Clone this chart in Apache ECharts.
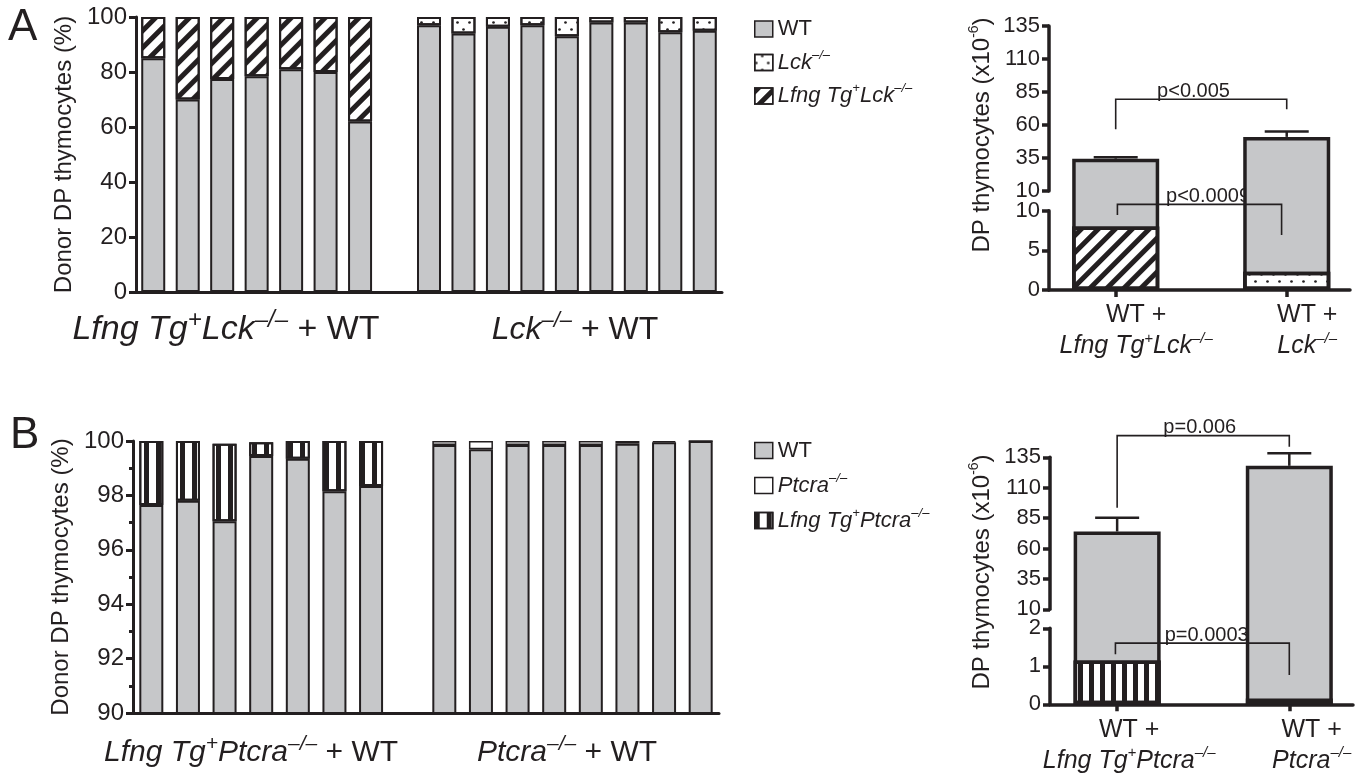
<!DOCTYPE html>
<html>
<head>
<meta charset="utf-8">
<title>Donor DP thymocytes</title>
<script src="https://cdn.jsdelivr.net/npm/echarts@6.0.0/dist/echarts.min.js"></script>
<style>
  html, body { margin: 0; padding: 0; background: #fff; }
  #chart { width: 1366px; height: 781px; }
</style>
</head>
<body>
<div id="chart"></div>
<script>
var ink = '#231f20';
var grey = '#c6c7c9';
var font = '"Liberation Sans", Arial, Helvetica, sans-serif';

// ---- Panel A, left: % of donor DP thymocytes per recipient ----
var aLfngWT  = [85, 70, 77.5, 78.5, 81, 80, 62];          // WT share, Lfng Tg+Lck-/- + WT
var aLfngMut = [15, 30, 22.5, 21.5, 19, 20, 38];          // Lfng Tg+Lck-/- share
var aLckWT   = [97, 94, 96.5, 97, 93, 98, 98, 94.5, 95];  // WT share, Lck-/- + WT
var aLckMut  = [3, 6, 3.5, 3, 7, 2, 2, 5.5, 5];           // Lck-/- share

// ---- Panel B, left ----
var bLfngWT  = [97.65, 97.8, 97.05, 99.45, 99.35, 98.15, 98.35];
var bLfngMut = [2.35, 2.2, 2.85, 0.5, 0.65, 1.85, 1.65];
var bPtWT    = [99.85, 99.7, 99.85, 99.85, 99.85, 99.9, 99.95, 100];
var bPtMut   = [0.15, 0.3, 0.15, 0.15, 0.15, 0.1, 0.05, 0];

// ---- right panels: DP thymocytes (x10^6), mean + SEM ----
var aTotal = [34.5, 51];
var aTotalErr = [1, 4];
var aMut = [8, 2.3];        // Lfng Tg+Lck-/-, Lck-/-
var bTotal = [74, 128];
var bTotalErr = [11.3, 10.3];
var bMut = [1.15, 0.15];    // Lfng Tg+Ptcra-/-, Ptcra-/-

var upperTicks = [10, 35, 60, 85, 110, 135];

var aBrackets = [
  { from: 1, to: 2, legs: [56.7, 71.9], bar: 79.5, text: 'p<0.005', at: 1.455 },
  { from: 1.01, to: 1.97, legs: [9.46, 6.94], bar: 10.8, low: true, text: 'p<0.0009', at: 1.54 }
];
var bBrackets = [
  { from: 1, to: 2, legs: [93.6, 143.7], bar: 152.8, text: 'p=0.006', at: 1.48 },
  { from: 0.99, to: 2, legs: [1.32, 0.77], bar: 1.61, text: 'p=0.0003', at: 1.52 }
];

// broken axis geometry of the right panels
var geoA = { left: 1049, width: 301, top: 20, lowTop: 210.7, lowBottom: 290, lowMax: 10,
             upTop: 26, upBottom: 191, upMin: 10, upMax: 135 };
var geoB = { left: 1050, width: 303, top: 420, lowTop: 628.3, lowBottom: 704.3, lowMax: 2,
             upTop: 457.3, upBottom: 609.3, upMin: 10, upMax: 135 };

function scaleFor(g) {
  var lowK = (g.lowBottom - g.lowTop) / g.lowMax;
  var upK = (g.upBottom - g.upTop) / (g.upMax - g.upMin);
  var f = function (v, lowOnly) {
    if (v <= g.lowMax || lowOnly) return v;
    return g.lowMax + (g.lowTop - g.upBottom + (v - g.upMin) * upK) / lowK;
  };
  f.max = (g.lowBottom - g.top) / lowK;
  return f;
}
var tA = scaleFor(geoA);
var tB = scaleFor(geoB);

function dashes(n) { var r = []; for (var i = 0; i < n; i++) r.push('-'); return r; }

var catA = aLfngWT.map(function (v, i) { return 'L' + i; }).concat(['gapA'], aLckWT.map(function (v, i) { return 'K' + i; }));
var catB = bLfngWT.map(function (v, i) { return 'L' + i; }).concat(['gapB'], bPtWT.map(function (v, i) { return 'P' + i; }));

function rich(fs, supRatio) {
  var lh = Math.round(fs * 1.25);
  var ss = Math.round(fs * (supRatio || 0.6));
  return {
    r: { fontSize: fs, fontFamily: font, color: ink, fill: ink, lineHeight: lh },
    i: { fontSize: fs, fontFamily: font, fontStyle: 'italic', color: ink, fill: ink, lineHeight: lh },
    s: { fontSize: ss, fontFamily: font, fontStyle: 'italic', color: ink, fill: ink,
         lineHeight: Math.round(ss * 1.3), verticalAlign: 'top' },
    n: { fontSize: ss, fontFamily: font, color: ink, fill: ink,
         lineHeight: Math.round(ss * 1.3), verticalAlign: 'top' }
  };
}
var legendText = {
  'WT': '{r|WT}',
  'Lck-/-': '{i|Lck}{s|–/–}',
  'Lfng Tg+Lck-/-': '{i|Lfng Tg}{s|+}{i|Lck}{s|–/–}',
  'Ptcra-/-': '{i|Ptcra}{s|–/–}',
  'Lfng Tg+Ptcra-/-': '{i|Lfng Tg}{s|+}{i|Ptcra}{s|–/–}'
};

var decalDiag = { symbol: 'rect', symbolSize: 1, symbolKeepAspect: false, dashArrayX: [1, 0], dashArrayY: [5, 7],
                  rotation: -Math.PI / 4, color: ink };
var decalDots = { symbol: 'circle', symbolSize: 0.9, symbolKeepAspect: false, dashArrayX: [[3, 9], [0, 6, 3, 3]],
                  dashArrayY: [3, 4], color: ink };
var decalVertL = { symbol: 'rect', symbolSize: 1, symbolKeepAspect: false, dashArrayX: [5, 7], dashArrayY: [1, 0], color: ink };
var decalVertR = { symbol: 'rect', symbolSize: 1, symbolKeepAspect: false, dashArrayX: [5, 5.5], dashArrayY: [1, 0], color: ink };

function grid(l, t, w, h) {
  return { left: l, top: t, width: w, height: h, containLabel: false, outerBoundsMode: 'none' };
}

function leftY(gi, min, max, step, minor) {
  return {
    gridIndex: gi, type: 'value', min: min, max: max, interval: step,
    name: 'Donor DP thymocytes (%)', nameLocation: 'middle', nameGap: 60, nameMoveOverlap: false,
    nameTextStyle: { fontSize: 24, color: ink, fontFamily: font },
    axisLine: { show: true, lineStyle: { color: ink, width: 3 } },
    axisTick: { show: true, length: 7, lineStyle: { color: ink, width: 3 } },
    minorTick: { show: minor, splitNumber: 2, length: 4, lineStyle: { color: ink, width: 3 } },
    axisLabel: { fontSize: 24, color: ink, fontFamily: font, margin: 9 },
    splitLine: { show: false }
  };
}
function leftX(gi, cats, centred) {
  return {
    gridIndex: gi, type: 'category', data: cats,
    axisLine: { lineStyle: { color: ink, width: 3 } },
    axisTick: { alignWithLabel: centred, interval: 0, length: 4, lineStyle: { color: ink, width: 3 } },
    axisLabel: { show: false, interval: 0 },
    splitLine: { show: false }
  };
}
function hiddenX(gi) { return { gridIndex: gi, type: 'value', min: 0.61, max: 2.37, show: false }; }
function lowerX(gi, labelAt, labels) {
  return {
    gridIndex: gi, type: 'value', min: 0.61, max: 2.37,
    axisLine: { lineStyle: { color: ink, width: 3.5 } },
    axisTick: { show: true, customValues: [1, 2], length: 7, lineStyle: { color: ink, width: 3.5 } },
    axisLabel: { customValues: labelAt, margin: 10, color: ink, fontFamily: font, fontSize: 25, lineHeight: 31,
                 formatter: function (v) { return labels[v < 1.5 ? 0 : 1]; }, rich: rich(25) },
    splitLine: { show: false }
  };
}
function rightY(gi, min, max, step, custom) {
  var ax = {
    gridIndex: gi, type: 'value', min: min, max: max,
    axisLine: { show: true, lineStyle: { color: ink, width: 3.5 } },
    axisTick: { show: true, length: 7, lineStyle: { color: ink, width: 3.5 } },
    axisLabel: { fontSize: 22, color: ink, fontFamily: font, margin: 9 },
    splitLine: { show: false }
  };
  if (custom) { ax.axisTick.customValues = custom; ax.axisLabel.customValues = custom; }
  else { ax.interval = step; }
  return ax;
}

function errItem(params, api) {
  var top = api.coord([api.value(0), api.value(1)]);
  var cap = api.coord([api.value(0), api.value(2)]);
  return { type: 'group', children: [
    { type: 'line', shape: { x1: top[0], y1: top[1], x2: cap[0], y2: cap[1] }, style: { stroke: ink, lineWidth: 2.5 } },
    { type: 'line', shape: { x1: cap[0] - 22, y1: cap[1], x2: cap[0] + 22, y2: cap[1] }, style: { stroke: ink, lineWidth: 2.5 } }
  ] };
}
function bracketItem(params, api) {
  var l = api.coord([api.value(0), api.value(2)]);
  var a = api.coord([api.value(0), api.value(4)]);
  var b = api.coord([api.value(1), api.value(4)]);
  var r = api.coord([api.value(1), api.value(3)]);
  return { type: 'polyline', shape: { points: [l, a, b, r] }, style: { stroke: ink, lineWidth: 1.6, fill: null } };
}
function labelItemFor(list) {
  return function (params, api) {
    var p = api.coord([api.value(0), api.value(1)]);
    return { type: 'text', x: p[0], y: p[1] + 2,
      style: { text: list[params.dataIndex].text, fontSize: 20, fontFamily: font, fill: ink,
               align: 'center', verticalAlign: 'bottom' } };
  };
}

function rightSeries(gi, t, total, err, mut, names, decals, brackets) {
  var mk = { type: 'bar', xAxisIndex: gi, yAxisIndex: gi, barWidth: 87, barGap: '-100%', clip: false };
  return [
    Object.assign({ name: 'WT', data: total.map(function (v, i) { return [i + 1, t(v)]; }),
      itemStyle: { color: grey, borderColor: ink, borderWidth: 3.5 } }, mk),
    Object.assign({ name: names[0], data: [[1, t(mut[0])]],
      itemStyle: { color: '#fff', borderColor: ink, borderWidth: 3.5, decal: decals[0] } }, mk),
    Object.assign({ name: names[1], data: [[2, t(mut[1])]],
      itemStyle: { color: '#fff', borderColor: ink, borderWidth: 3.5, decal: decals[1] } }, mk),
    { type: 'custom', xAxisIndex: gi, yAxisIndex: gi, z: 3, renderItem: errItem,
      data: total.map(function (v, i) { return [i + 1, t(v), t(v + err[i])]; }) },
    { type: 'custom', xAxisIndex: gi, yAxisIndex: gi, z: 3, renderItem: bracketItem,
      data: brackets.map(function (b) { return [b.from, b.to, t(b.legs[0], b.low), t(b.legs[1], b.low), t(b.bar, b.low)]; }) },
    { type: 'custom', xAxisIndex: gi, yAxisIndex: gi, z: 1, renderItem: labelItemFor(brackets),
      data: brackets.map(function (b) { return [b.at, t(b.bar, b.low)]; }) }
  ];
}

var barL = { type: 'bar', barWidth: 24, clip: true };
var option = {
  animation: false,
  backgroundColor: '#fff',
  textStyle: { fontFamily: font, color: ink },
  grid: [
    grid(136, 17, 586, 275),
    grid(133, 441, 586, 272),
    grid(geoA.left, geoA.upTop, geoA.width, geoA.upBottom - geoA.upTop),
    grid(geoA.left, geoA.lowTop, geoA.width, geoA.lowBottom - geoA.lowTop),
    grid(geoA.left, geoA.top, geoA.width, geoA.lowBottom - geoA.top),
    grid(geoB.left, geoB.upTop, geoB.width, geoB.upBottom - geoB.upTop),
    grid(geoB.left, geoB.lowTop, geoB.width, geoB.lowBottom - geoB.lowTop),
    grid(geoB.left, geoB.top, geoB.width, geoB.lowBottom - geoB.top)
  ],
  xAxis: [
    leftX(0, catA, true),
    leftX(1, catB, false),
    hiddenX(2),
    lowerX(3, [1.12, 2.12], ['{r|WT +}\n{i|Lfng Tg}{s|+}{i|Lck}{s|–/–}', '{r|WT +}\n{i|Lck}{s|–/–}']),
    hiddenX(4),
    hiddenX(5),
    lowerX(6, [1.07, 2.13], ['{r|WT +}\n{i|Lfng Tg}{s|+}{i|Ptcra}{s|–/–}', '{r|WT +}\n{i|Ptcra}{s|–/–}']),
    hiddenX(7)
  ],
  yAxis: [
    leftY(0, 0, 100, 20, false),
    leftY(1, 90, 100, 2, true),
    rightY(2, 10, 135, null, upperTicks),
    rightY(3, 0, 10, 5),
    { gridIndex: 4, type: 'value', min: 0, max: tA.max, show: false },
    rightY(5, 10, 135, null, upperTicks),
    rightY(6, 0, 2, 1),
    { gridIndex: 7, type: 'value', min: 0, max: tB.max, show: false }
  ],
  legend: [
    { left: 749, top: 13, orient: 'vertical', itemWidth: 18, itemHeight: 16, itemGap: 8.5, selectedMode: false,
      data: [{ name: 'WT', icon: 'rect' }, { name: 'Lck-/-', icon: 'rect' }, { name: 'Lfng Tg+Lck-/-', icon: 'rect' }],
      formatter: function (n) { return legendText[n]; },
      itemStyle: { borderColor: ink, borderWidth: 1.5 },
      textStyle: { fontSize: 22, color: ink, fontFamily: font, rich: rich(22) } },
    { left: 749, top: 434.5, orient: 'vertical', itemWidth: 18, itemHeight: 16, itemGap: 10, selectedMode: false,
      data: [{ name: 'WT', icon: 'rect' }, { name: 'Ptcra-/-', icon: 'rect' }, { name: 'Lfng Tg+Ptcra-/-', icon: 'rect' }],
      formatter: function (n) { return legendText[n]; },
      itemStyle: { borderColor: ink, borderWidth: 1.5 },
      textStyle: { fontSize: 22, color: ink, fontFamily: font, rich: rich(22) } }
  ],
  graphic: [
    { type: 'text', left: 8, top: 6, style: { text: 'A', fontSize: 44, fontFamily: font, fill: ink } },
    { type: 'text', left: 10, top: 414, style: { text: 'B', fontSize: 44, fontFamily: font, fill: ink } },
    { type: 'text', x: 226, y: 330, style: { text: '{i|Lfng Tg}{s|+}{i|Lck}{s|–/–}{r| + WT}', rich: rich(34, 0.7),
      align: 'center', verticalAlign: 'middle' } },
    { type: 'text', x: 575, y: 330, style: { text: '{i|Lck}{s|–/–}{r| + WT}', rich: rich(32, 0.7),
      align: 'center', verticalAlign: 'middle' } },
    { type: 'text', x: 251, y: 753, style: { text: '{i|Lfng Tg}{s|+}{i|Ptcra}{s|–/–}{r| + WT}', rich: rich(30, 0.7),
      align: 'center', verticalAlign: 'middle' } },
    { type: 'text', x: 567, y: 753, style: { text: '{i|Ptcra}{s|–/–}{r| + WT}', rich: rich(30, 0.7),
      align: 'center', verticalAlign: 'middle' } },
    { type: 'text', x: 982, y: 135, rotation: Math.PI / 2, style: { text: '{r|DP thymocytes (x10}{n|-6}{r|)}',
      rich: rich(24), align: 'center', verticalAlign: 'middle' } },
    { type: 'text', x: 982, y: 572, rotation: Math.PI / 2, style: { text: '{r|DP thymocytes (x10}{n|-6}{r|)}',
      rich: rich(24), align: 'center', verticalAlign: 'middle' } }
  ],
  series: [
    Object.assign({ name: 'WT', stack: 'a', xAxisIndex: 0, yAxisIndex: 0,
      data: aLfngWT.concat(['-'], aLckWT), itemStyle: { color: grey, borderColor: ink, borderWidth: 2 } }, barL),
    Object.assign({ name: 'Lck-/-', stack: 'a', xAxisIndex: 0, yAxisIndex: 0,
      data: dashes(aLfngWT.length + 1).concat(aLckMut),
      itemStyle: { color: '#fff', borderColor: ink, borderWidth: 2, decal: decalDots } }, barL),
    Object.assign({ name: 'Lfng Tg+Lck-/-', stack: 'a', xAxisIndex: 0, yAxisIndex: 0,
      data: aLfngMut.concat(dashes(aLckWT.length + 1)),
      itemStyle: { color: '#fff', borderColor: ink, borderWidth: 2, decal: decalDiag } }, barL),

    Object.assign({ name: 'WT', stack: 'b', xAxisIndex: 1, yAxisIndex: 1,
      data: bLfngWT.concat(['-'], bPtWT), itemStyle: { color: grey, borderColor: ink, borderWidth: 2 } }, barL),
    Object.assign({ name: 'Ptcra-/-', stack: 'b', xAxisIndex: 1, yAxisIndex: 1,
      data: dashes(bLfngWT.length + 1).concat(bPtMut),
      itemStyle: { color: '#fff', borderColor: ink, borderWidth: 1.5 } }, barL),
    Object.assign({ name: 'Lfng Tg+Ptcra-/-', stack: 'b', xAxisIndex: 1, yAxisIndex: 1,
      data: bLfngMut.concat(dashes(bPtWT.length + 1)),
      itemStyle: { color: '#fff', borderColor: ink, borderWidth: 2, decal: decalVertL } }, barL)
  ]
    .concat(rightSeries(4, tA, aTotal, aTotalErr, aMut, ['Lfng Tg+Lck-/-', 'Lck-/-'], [decalDiag, decalDots], aBrackets))
    .concat(rightSeries(7, tB, bTotal, bTotalErr, bMut, ['Lfng Tg+Ptcra-/-', 'Ptcra-/-'], [decalVertR, null], bBrackets))
};

var myChart = echarts.init(document.getElementById('chart'));
myChart.setOption(option);
</script>
</body>
</html>
